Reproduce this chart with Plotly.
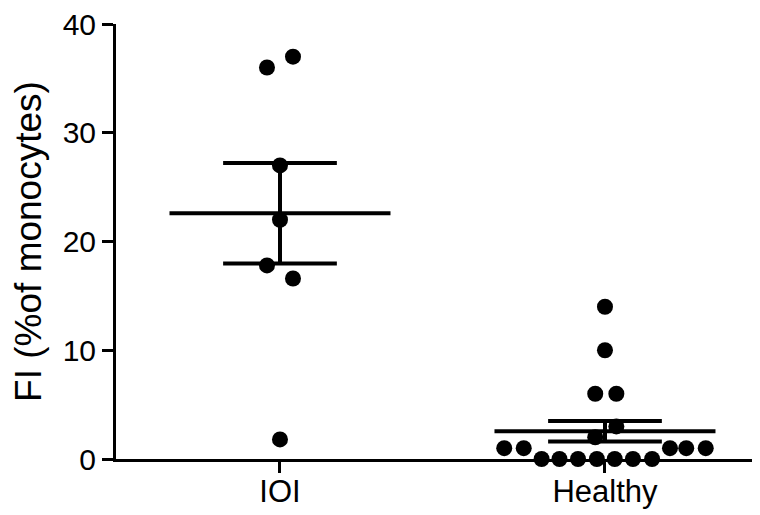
import numpy as np
import plotly.graph_objects as go

categories = ["IOI", "Healthy"]
ioi_values = [36.0, 37.0, 27.0, 22.0, 17.8, 16.6, 1.8]
ioi_jitter = [-0.04, 0.04, 0.0, 0.0, -0.04, 0.04, 0.0]
healthy_values = [14.0, 10.0, 6.0, 6.0, 3.0, 2.0,
                  1.0, 1.0, 1.0, 1.0, 1.0,
                  0.0, 0.0, 0.0, 0.0, 0.0, 0.0, 0.0]
healthy_jitter = [0.0, 0.0, -0.03, 0.035, 0.035, -0.03,
                  -0.31, -0.25, 0.2, 0.25, 0.31,
                  -0.195, -0.14, -0.083, -0.025, 0.03, 0.086, 0.145]
y_ticks = [0, 10, 20, 30, 40]

groups = [(0, ioi_values, ioi_jitter), (1, healthy_values, healthy_jitter)]

fig = go.Figure()
mean_half = 0.34
sem_half = 0.175
for pos, vals, jit in groups:
    v = np.array(vals)
    xs = [pos + j for j in jit]
    fig.add_trace(go.Scatter(x=xs, y=vals, mode="markers",
                             marker=dict(color="black", size=16, symbol="circle"),
                             cliponaxis=False, showlegend=False, hoverinfo="y"))
    m = v.mean()
    sem = v.std(ddof=1) / np.sqrt(len(v))
    line = dict(color="black", width=4)
    fig.add_trace(go.Scatter(x=[pos - mean_half, pos + mean_half], y=[m, m], mode="lines",
                             line=line, showlegend=False, cliponaxis=False))
    fig.add_trace(go.Scatter(x=[pos - sem_half, pos + sem_half], y=[m + sem, m + sem], mode="lines",
                             line=line, showlegend=False, cliponaxis=False))
    fig.add_trace(go.Scatter(x=[pos - sem_half, pos + sem_half], y=[m - sem, m - sem], mode="lines",
                             line=line, showlegend=False, cliponaxis=False))
    fig.add_trace(go.Scatter(x=[pos, pos], y=[m - sem, m + sem], mode="lines",
                             line=line, showlegend=False, cliponaxis=False))

# page body has an 8px default margin, so the figure is offset by 8px
fig.update_layout(
    width=760, height=507, autosize=False,
    margin=dict(l=108, r=8, t=16, b=56),
    paper_bgcolor="white", plot_bgcolor="white",
    font=dict(family="Liberation Sans, Arial, sans-serif", color="black"),
)
fig.update_xaxes(
    range=[-0.5046, 1.477], tickmode="array", tickvals=[0, 1], ticktext=categories,
    showline=True, linecolor="black", linewidth=3, ticks="outside", ticklen=11, tickwidth=3,
    tickcolor="black", showgrid=False, zeroline=False, tickfont=dict(size=31),
    automargin=False, ticklabelstandoff=-8, ticklabeloverflow="allow",
)
fig.update_yaxes(
    range=[0, 40], tickmode="array", tickvals=y_ticks,
    showline=True, linecolor="black", linewidth=3, ticks="outside", ticklen=11, tickwidth=3,
    tickcolor="black", showgrid=False, zeroline=False, tickfont=dict(size=30),
    automargin=False, ticklabeloverflow="allow",
    title=dict(text="FI (%of monocytes)", font=dict(size=37), standoff=14),
)
fig.write_html("out.html")
